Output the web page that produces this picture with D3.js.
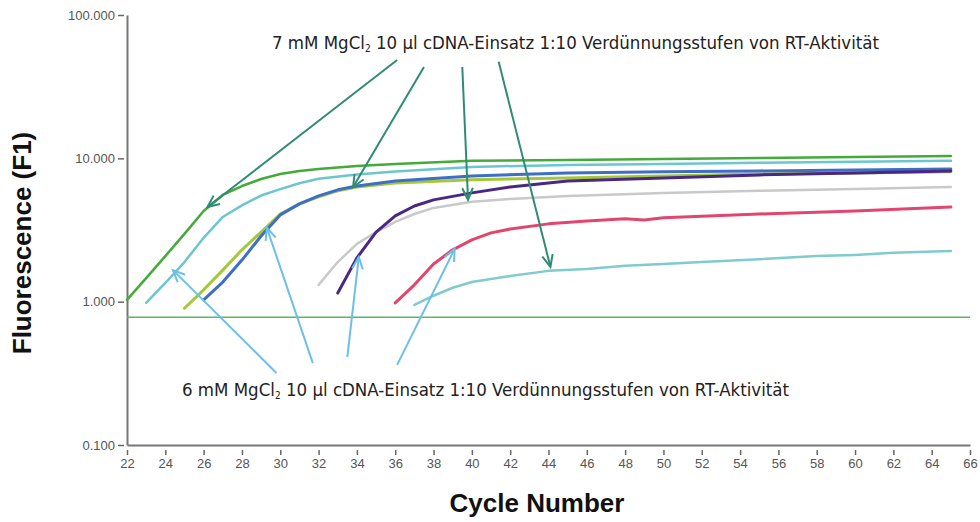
<!DOCTYPE html>
<html>
<head>
<meta charset="utf-8">
<script src="https://cdn.jsdelivr.net/npm/d3@7"></script>
<style>
  body { margin: 0; background: #fff; }
  svg { display: block; }
</style>
</head>
<body>
<div id="chart"></div>
<script>
let width = 980,
	height = 522;

// axis ticks
const xTicks = d3.range(22, 67, 2);
const yTicks = [0.1, 1, 10, 100];
const yTickLabels = ['0.100', '1.000', '10.000', '100.000'];
const threshold = 0.78;

// amplification curves (cycle, fluorescence)
const greenCycles = [22, 23, 24, 25, 26, 27, 28, 29, 30, 31, 32, 34, 36, 40, 45, 50, 55, 60, 65];
const greenValues = [1.03, 1.46, 2.08, 2.97, 4.29, 5.55, 6.41, 7.18, 7.78, 8.17, 8.43, 8.85, 9.14, 9.6, 9.75, 9.9, 10.05, 10.2, 10.4];

const cyanCycles = [23, 24, 25, 26, 27, 28, 29, 30, 31, 32, 34, 36, 40, 45, 50, 55, 60, 65];
const cyanValues = [0.98, 1.35, 1.89, 2.79, 3.9, 4.7, 5.5, 6.1, 6.7, 7.2, 7.7, 8.1, 8.71, 9.0, 9.14, 9.3, 9.45, 9.6];

const limeCycles = [25, 26, 27, 28, 29, 30, 31, 32, 33, 34, 36, 40, 45, 50, 55, 60, 65];
const limeValues = [0.9, 1.21, 1.66, 2.3, 3.06, 4.09, 4.81, 5.38, 5.93, 6.31, 6.73, 7.08, 7.3, 7.54, 7.78, 7.9, 8.05];

const blueCycles = [26, 27, 28, 29, 30, 31, 32, 33, 34, 36, 40, 45, 50, 55, 60, 65];
const blueValues = [1.03, 1.37, 1.95, 2.87, 4.03, 4.81, 5.47, 6.03, 6.41, 6.95, 7.54, 7.9, 8.05, 8.17, 8.3, 8.43];

const grayCycles = [32, 33, 34, 35, 36, 37, 38, 40, 42, 45, 50, 55, 60, 65];
const grayValues = [1.31, 1.89, 2.53, 3.06, 3.6, 4.09, 4.51, 4.97, 5.21, 5.47, 5.74, 5.93, 6.12, 6.31];

const purpleCycles = [33, 34, 35, 36, 37, 38, 40, 42, 45, 50, 55, 60, 65];
const purpleValues = [1.15, 2.02, 3.06, 3.97, 4.65, 5.13, 5.74, 6.31, 6.95, 7.3, 7.66, 7.9, 8.17];

const pinkCycles = [36, 37, 38, 39, 40, 41, 42, 44, 46, 48, 49, 50, 55, 60, 65];
const pinkValues = [0.98, 1.31, 1.83, 2.3, 2.7, 3.02, 3.21, 3.49, 3.66, 3.79, 3.72, 3.85, 4.09, 4.29, 4.57];

const tealCycles = [37, 38, 39, 40, 42, 44, 46, 48, 50, 52, 55, 58, 60, 62, 65];
const tealValues = [0.95, 1.1, 1.25, 1.37, 1.51, 1.64, 1.69, 1.78, 1.83, 1.89, 1.98, 2.08, 2.12, 2.19, 2.26];

const series = [
	{c: grayCycles, v: grayValues, color: '#c9c9c9', w: 2.5},
	{c: limeCycles, v: limeValues, color: '#a5c83a', w: 3},
	{c: blueCycles, v: blueValues, color: '#3f6fc4', w: 3},
	{c: cyanCycles, v: cyanValues, color: '#6cc6cf', w: 2.5},
	{c: greenCycles, v: greenValues, color: '#44aa3a', w: 2.5},
	{c: purpleCycles, v: purpleValues, color: '#4a2783', w: 3},
	{c: pinkCycles, v: pinkValues, color: '#e2466f', w: 3},
	{c: tealCycles, v: tealValues, color: '#7fcbcd', w: 2.5}
];

// annotation arrows: tail cycle/value -> head cycle/value
const arrows7Tail = [[36.1, 48.6], [37.5, 43.4], [39.5, 43.4], [41.4, 47.1]];
const arrows7Head = [[26.2, 4.57], [33.8, 6.31], [39.8, 5.13], [44.1, 1.75]];
const arrows6Tail = [[29.8, 0.318], [31.7, 0.373], [33.5, 0.411], [36.1, 0.362]];
const arrows6Head = [[24.4, 1.66], [29.3, 3.27], [34.1, 2.05], [39.1, 2.33]];

const svg = d3.select('#chart').append('svg').attr('width', width).attr('height', height);

let x = d3.scaleLinear().domain([22, 66]).range([127, 970]);
let y = d3.scaleLog().domain([0.1, 100]).range([445, 15]);

// axes
let yAxis = svg.append('g').attr('transform', 'translate(127,0)')
	.call(d3.axisLeft(y).tickValues(yTicks).tickFormat((d, i) => yTickLabels[i]).tickSizeOuter(0));
yAxis.select('.domain').attr('stroke', '#777').attr('stroke-width', 2);
yAxis.selectAll('.tick line').attr('x1', -3).attr('x2', -9).attr('stroke', '#666').attr('stroke-width', 1.5);
yAxis.selectAll('.tick text').attr('x', -12).attr('fill', '#555')
	.style('font', '13px "Liberation Sans", Arial, sans-serif');

let xAxis = svg.append('g').attr('transform', 'translate(0,445)')
	.call(d3.axisBottom(x).tickValues(xTicks).tickSizeOuter(0));
xAxis.select('.domain').attr('stroke', '#777').attr('stroke-width', 2);
xAxis.selectAll('.tick line').attr('y1', 5).attr('y2', 10).attr('stroke', '#666').attr('stroke-width', 1.5);
xAxis.selectAll('.tick text').attr('y', 14).attr('fill', '#555')
	.style('font', '13px "Liberation Sans", Arial, sans-serif');

// threshold
svg.append('line')
	.attr('x1', x(22)).attr('x2', x(66))
	.attr('y1', y(threshold)).attr('y2', y(threshold))
	.attr('stroke', '#5cb85c').attr('stroke-width', 1.5);

// curves
let line = d3.line().x(d => x(d[0])).y(d => y(d[1]));
svg.append('g').selectAll('path').data(series).enter().append('path')
	.attr('d', s => line(s.c.map((c, i) => [c, s.v[i]])))
	.attr('fill', 'none')
	.attr('stroke', s => s.color)
	.attr('stroke-width', s => s.w)
	.attr('stroke-linejoin', 'round')
	.attr('stroke-linecap', 'round');

// arrows with open heads
function drawArrows(tails, heads, color) {
	let g = svg.append('g').attr('stroke', color).attr('stroke-width', 2).attr('fill', 'none');
	tails.forEach((t, i) => {
		let x0 = x(t[0]), y0 = y(t[1]), x1 = x(heads[i][0]), y1 = y(heads[i][1]);
		let a = Math.atan2(y1 - y0, x1 - x0), len = 13, spread = 0.42;
		g.append('line').attr('x1', x0).attr('y1', y0).attr('x2', x1).attr('y2', y1);
		g.append('path').attr('d', d3.line()([
			[x1 - len * Math.cos(a - spread), y1 - len * Math.sin(a - spread)],
			[x1, y1],
			[x1 - len * Math.cos(a + spread), y1 - len * Math.sin(a + spread)]
		]));
	});
}
drawArrows(arrows7Tail, arrows7Head, '#2f8b74');
drawArrows(arrows6Tail, arrows6Head, '#6dbfe9');

// annotation texts
function label(tx, ty, mm) {
	let t = svg.append('text').attr('x', tx).attr('y', ty).attr('fill', '#222')
		.style('font', '18.5px "DejaVu Sans Condensed", "DejaVu Sans", sans-serif');
	t.append('tspan').text(mm + ' mM MgCl');
	t.append('tspan').attr('dy', 3).style('font-size', '10px').text('2');
	t.append('tspan').attr('dy', -3).text(' 10 µl cDNA-Einsatz 1:10 Verdünnungsstufen von RT-Aktivität');
}
label(272, 49, 7);
label(182, 396, 6);

// axis titles
svg.append('text').attr('x', 537).attr('y', 512).attr('text-anchor', 'middle')
	.attr('fill', '#111').style('font', 'bold 26px "Liberation Sans", Arial, sans-serif')
	.text('Cycle Number');
svg.append('text').attr('transform', 'translate(31,243) rotate(-90)').attr('text-anchor', 'middle')
	.attr('fill', '#111').style('font', 'bold 26px "Liberation Sans", Arial, sans-serif')
	.text('Fluorescence (F1)');
</script>
</body>
</html>
